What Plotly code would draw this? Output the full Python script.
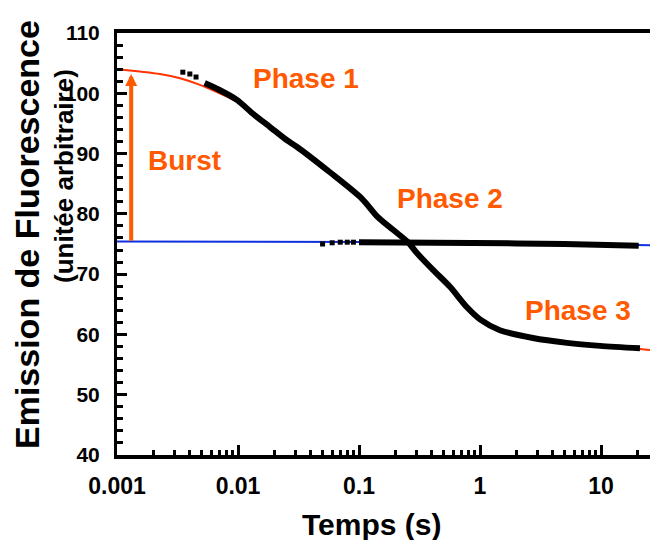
import math
import plotly.graph_objects as go

# ---- data ----
main_sparse_t = [0.0035, 0.004, 0.0045]
main_sparse_v = [103.5, 103.2, 102.7]
main_t = [0.0053, 0.0071, 0.0098, 0.0133, 0.0184, 0.0254, 0.0308, 0.0575, 0.106, 0.141,
          0.19, 0.254, 0.301, 0.409, 0.565, 0.781, 1.0, 1.46, 2.74, 5.24, 9.82, 21.0]
main_v = [101.7, 100.5, 98.9, 96.6, 94.4, 92.2, 91.1, 86.9, 82.5, 79.6,
          77.4, 75.3, 73.5, 70.7, 67.9, 64.5, 62.5, 60.7, 59.4, 58.6, 58.1, 57.7]

p2_sparse_t = [0.05, 0.06, 0.07, 0.08, 0.09]
p2_sparse_v = [75.0, 75.2, 75.3, 75.3, 75.3]
p2_t = [0.1, 0.2, 0.5, 1.0, 2.0, 5.0, 10.0, 15.0, 20.5]
p2_v = [75.3, 75.3, 75.2, 75.2, 75.1, 75.0, 74.9, 74.8, 74.7]

fit_t = [0.001, 0.00155, 0.00226, 0.00332, 0.00485, 0.00684, 0.0098, 0.0133, 0.0184, 0.0254,
         0.0308, 0.0575, 0.106, 0.141, 0.19, 0.254, 0.301, 0.409, 0.565, 0.781, 1.0, 1.46, 2.74,
         5.24, 9.82, 21.0, 25.4]
fit_v = [104.0, 103.6, 103.2, 102.5, 101.4, 100.1, 98.6, 96.5, 94.3, 92.2,
         91.0, 86.9, 82.5, 79.6, 77.4, 75.3, 73.5, 70.7, 67.9, 64.5, 62.5, 60.7, 59.4,
         58.6, 58.1, 57.6, 57.4]

base_t = [0.001, 1.0, 26.0]
base_v = [75.4, 75.3, 74.8]

burst_t = 0.00131
burst_from = 75.3
burst_to = 103.2

x_ticks = [0.001, 0.01, 0.1, 1, 10]
x_ticktext = ["0.001", "0.01", "0.1", "1", "10"]

FONT = "Liberation Sans, Arial, Helvetica, sans-serif"
ORANGE = "#ff5a00"
RED = "#ff3300"
BLUE = "#1030e0"

fig = go.Figure()
fig.add_trace(go.Scatter(x=fit_t, y=fit_v, mode="lines", line=dict(color=RED, width=2, shape="spline", smoothing=0.8),
                         hoverinfo="skip"))
fig.add_trace(go.Scatter(x=base_t, y=base_v, mode="lines", line=dict(color=BLUE, width=2), hoverinfo="skip"))
fig.add_trace(go.Scatter(x=main_sparse_t, y=main_sparse_v, mode="markers",
                         marker=dict(symbol="square", size=5, color="black", line=dict(width=0))))
fig.add_trace(go.Scatter(x=main_t, y=main_v, mode="lines",
                         line=dict(color="black", width=6, shape="spline", smoothing=0.8)))
fig.add_trace(go.Scatter(x=p2_sparse_t, y=p2_sparse_v, mode="markers",
                         marker=dict(symbol="square", size=5, color="black", line=dict(width=0))))
fig.add_trace(go.Scatter(x=p2_t, y=p2_v, mode="lines", line=dict(color="black", width=6)))

L, R, T, B = 117, 0, 33, 85
W, H = 650, 540
pw, ph = W - L - R, H - T - B

def px(x):
    return (x - L) / pw

def py(y):
    return (H - B - y) / ph

annos = []
def text(s, x, y, size, angle=0, color=ORANGE):
    annos.append(dict(text=s, x=px(x), y=py(y), xref="paper", yref="paper", showarrow=False,
                      xanchor="center", yanchor="middle", textangle=angle,
                      font=dict(family=FONT, size=size, color=color, weight="bold")))

text("Phase 1", 306, 78, 28)
text("Burst", 184, 160, 28)
text("Phase 2", 450, 199, 28)
text("Phase 3", 578, 310, 28)
text("Emission de Fluorescence", 27, 235, 34, -90, "black")
text("(unitée arbitraire)", 64, 176, 26, -90, "black")
text("Temps (s)", 371, 524, 30, 0, "black")

annos.append(dict(x=math.log10(burst_t), y=burst_to, ax=math.log10(burst_t), ay=burst_from,
                  xref="x", yref="y", axref="x", ayref="y", showarrow=True, text="",
                  arrowhead=2, arrowsize=0.6, arrowwidth=4, arrowcolor=ORANGE, standoff=0))

fig.update_layout(
    width=W, height=H, margin=dict(l=L, r=R, t=T, b=B),
    paper_bgcolor="white", plot_bgcolor="white", showlegend=False,
    annotations=annos,
    xaxis=dict(type="log", range=[-3, -3 + pw / 121.0], showgrid=False, zeroline=False,
               showline=True, linecolor="black", linewidth=4, mirror=True,
               ticks="inside", ticklen=10, tickwidth=3, tickcolor="black",
               tickmode="array", tickvals=x_ticks, ticktext=x_ticktext,
               tickfont=dict(family=FONT, size=23, color="black", weight="bold"),
               ticklabelstandoff=7,
               minor=dict(ticks="inside", ticklen=5, tickwidth=3, tickcolor="black", dtick="D1", showgrid=False)),
    yaxis=dict(range=[40, 110], showgrid=False, zeroline=False,
               showline=True, linecolor="black", linewidth=3, mirror=False,
               ticks="inside", ticklen=10, tickwidth=3, tickcolor="black",
               tick0=40, dtick=10,
               tickfont=dict(family=FONT, size=21, color="black", weight="bold"),
               ticklabelstandoff=10,
               minor=dict(ticks="inside", ticklen=6, tickwidth=3, tickcolor="black", dtick=2, showgrid=False)),
)

fig.write_html("out.html")
